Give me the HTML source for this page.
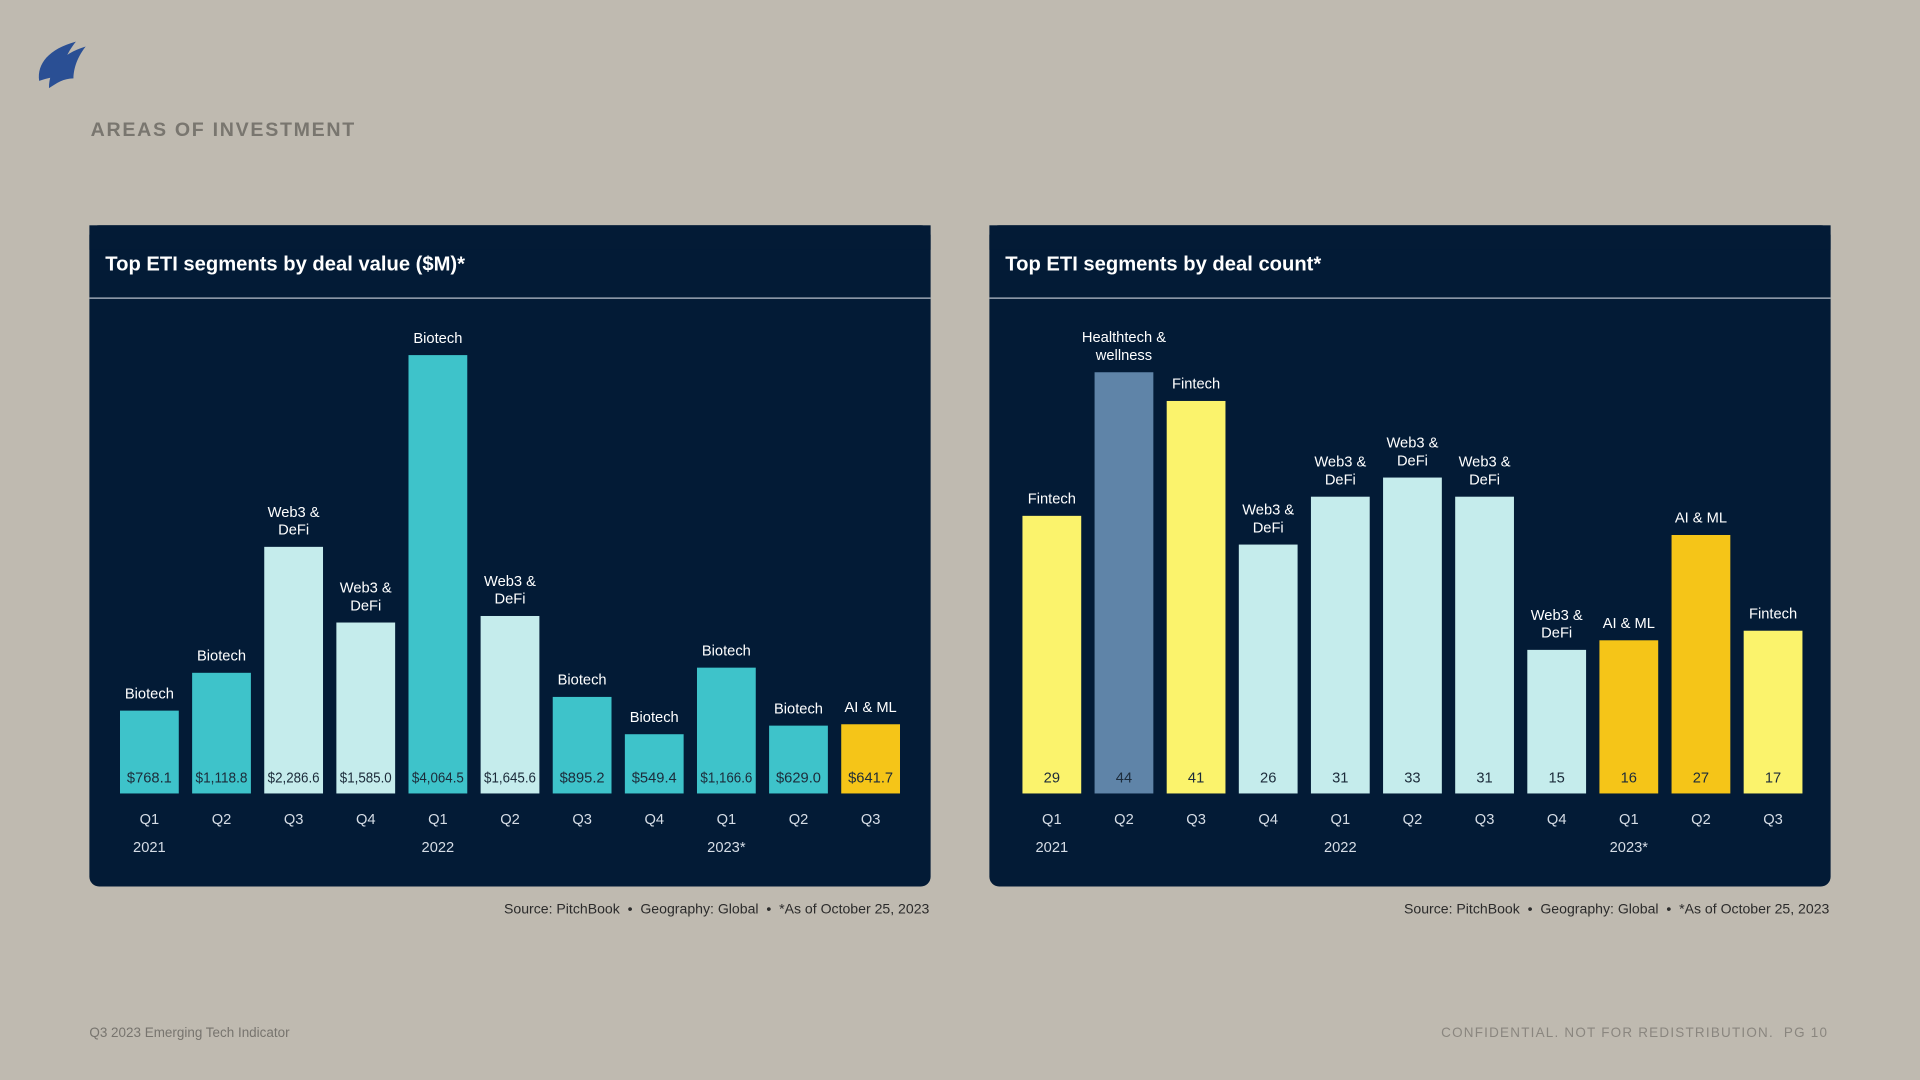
<!DOCTYPE html>
<html><head><meta charset="utf-8"><style>
html,body{margin:0;padding:0;background:#bfbab0;}
svg{display:block;}
text{font-family:"Liberation Sans",sans-serif;}
.n{font-family:"Liberation Sans Narrow","Liberation Sans",sans-serif;}
</style></head><body>
<svg id="s" width="1920" height="1080" viewBox="0 0 1568 882" xmlns="http://www.w3.org/2000/svg">
<rect width="1568" height="882" fill="#bfbab0"/>
<g>
<path d="M32,66 C30,52 40,40 62,34 C54,44 50,54 52,64 C44,62 38,64 32,66Z" fill="#2a4f94"/>
<path d="M40,72 C40,56 50,44 70,38 C62,48 60,58 60,64 C52,64 46,68 40,72Z" fill="#2a4f94"/>
</g>
<text x="74" y="111" font-size="16" font-weight="bold" fill="#79766f" letter-spacing="1.4">AREAS OF INVESTMENT</text>

<g>
<rect x="73" y="184" width="687" height="540" rx="8" fill="#031b36"/>
<rect x="73" y="184" width="687" height="20" fill="#031b36"/>
<line x1="73" y1="243.5" x2="760" y2="243.5" stroke="#b8c0cc" stroke-width="1"/>
<text x="86" y="221" font-size="16.5" font-weight="bold" fill="#fff">Top ETI segments by deal value ($M)*</text>
<g id="c1"></g>
</g>
<g>
<rect x="808" y="184" width="687" height="540" rx="8" fill="#031b36"/>
<rect x="808" y="184" width="687" height="20" fill="#031b36"/>
<line x1="808" y1="243.5" x2="1495" y2="243.5" stroke="#b8c0cc" stroke-width="1"/>
<text x="821" y="221" font-size="16.5" font-weight="bold" fill="#fff">Top ETI segments by deal count*</text>
<g id="c2"></g>
</g>
<text x="759" y="746" font-size="11.5" fill="#2b2b2b" text-anchor="end">Source: PitchBook  •  Geography: Global  •  *As of October 25, 2023</text>
<text x="1494" y="746" font-size="11.5" fill="#2b2b2b" text-anchor="end">Source: PitchBook  •  Geography: Global  •  *As of October 25, 2023</text>
<text x="73" y="847" font-size="11" fill="#77746e">Q3 2023 Emerging Tech Indicator</text>
<text x="1493" y="847" font-size="11" fill="#8a867f" text-anchor="end" letter-spacing="1">CONFIDENTIAL. NOT FOR REDISTRIBUTION.  PG 10</text>
</svg>
<script>
const quarters=["Q1","Q2","Q3","Q4","Q1","Q2","Q3","Q4","Q1","Q2","Q3"];
const years=["2021","","","","2022","","","","2023*","",""];
const valueData=[768.1,1118.8,2286.6,1585.0,4064.5,1645.6,895.2,549.4,1166.6,629.0,641.7];
const valueLabels=["$768.1","$1,118.8","$2,286.6","$1,585.0","$4,064.5","$1,645.6","$895.2","$549.4","$1,166.6","$629.0","$641.7"];
const valueSegments=["Biotech","Biotech","Web3 &|DeFi","Web3 &|DeFi","Biotech","Web3 &|DeFi","Biotech","Biotech","Biotech","Biotech","AI & ML"];
const countData=[29,44,41,26,31,33,31,15,16,27,17];
const countSegments=["Fintech","Healthtech &|wellness","Fintech","Web3 &|DeFi","Web3 &|DeFi","Web3 &|DeFi","Web3 &|DeFi","Web3 &|DeFi","AI & ML","AI & ML","Fintech"];
const colors={"Biotech":"#3ec3ca","Web3 &|DeFi":"#c5ecec","AI & ML":"#f5c518","Fintech":"#fbf36c","Healthtech &|wellness":"#5f84a8"};
const NS="http://www.w3.org/2000/svg";
document.querySelectorAll('text').forEach(t=>{t.setAttribute('xml:space','preserve');t.style.whiteSpace='pre';});
function mk(tag,attrs,parent,txt){const e=document.createElementNS(NS,tag);for(const k in attrs)e.setAttribute(k,attrs[k]);if(txt!==undefined)e.textContent=txt;parent.appendChild(e);return e;}
function draw(gid,x0,vals,labels,segs,maxV,maxH,prefix){
  const g=document.getElementById(gid);
  const base=648,step=58.9,bw=48;
  const xs=i=>x0+i*step;
  const ys=v=>v/maxV*maxH;
  vals.forEach((v,i)=>{
    const cx=xs(i),h=ys(v);
    const r=mk('rect',{x:cx-bw/2,y:base-h,width:bw,height:h,fill:colors[segs[i]]},g);
    
    
    const lbl=labels[i];
    const attrs={x:cx,y:base-9,'font-size':12,fill:'#1c2b3a','text-anchor':'middle',class:'n'};
    if(lbl.length>6){attrs.textLength=lbl.length*5.3;attrs.lengthAdjust='spacingAndGlyphs';}
    const t=mk('text',attrs,g,lbl);
    
    
    const lines=segs[i].split('|');
    lines.forEach((ln,j)=>{
      const s=mk('text',{x:cx,y:base-h-10-(lines.length-1-j)*14.5,'font-size':12,fill:'#fff','text-anchor':'middle',class:'n'},g,ln);
      
      
    });
    const q=mk('text',{x:cx,y:673,'font-size':12,fill:'#d6dde6','text-anchor':'middle',class:'n'},g,quarters[i]);
    
    
    if(years[i]){
      const y=mk('text',{x:cx,y:696,'font-size':12,fill:'#d6dde6','text-anchor':'middle',class:'n'},g,years[i]);
      
      
    }
  });
}
draw('c1',122,valueData,valueLabels,valueSegments,4064.5,358,'value');
draw('c2',859,countData,countData.map(String),countSegments,44,344,'count');
</script>
</body></html>
